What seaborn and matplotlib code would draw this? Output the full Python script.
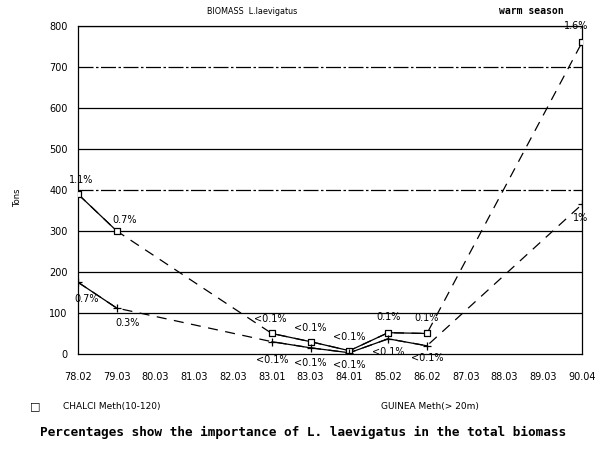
import numpy as np
import pandas as pd
import seaborn as sns
import matplotlib.pyplot as plt

# sampling dates (categorical x axis)
dates = ["78.02", "79.03", "80.03", "81.03", "82.03", "83.01", "83.03",
         "84.01", "85.02", "86.02", "87.03", "88.03", "89.03", "90.04"]

chalci_dates = ["78.02", "79.03", "83.01", "83.03", "84.01", "85.02", "86.02", "90.04"]
chalci_tons = [390, 300, 50, 30, 8, 52, 50, 760]
chalci_pct = ["1.1%", "0.7%", "<0.1%", "<0.1%", "<0.1%", "0.1%", "0.1%", "1.6%"]

guinea_dates = ["78.02", "79.03", "83.01", "83.03", "84.01", "85.02", "86.02", "90.04"]
guinea_tons = [175, 112, 30, 15, 3, 37, 20, 365]
guinea_pct = ["0.7%", "0.3%", "<0.1%", "<0.1%", "<0.1%", "<0.1%", "<0.1%", "1%"]

yticks = [0, 100, 200, 300, 400, 500, 600, 700, 800]

sns.set_style("white")
plt.rcParams["font.family"] = ["DejaVu Sans"]
plt.rcParams["text.color"] = "black"
plt.rcParams["xtick.color"] = "black"
plt.rcParams["ytick.color"] = "black"

df_c = pd.DataFrame({"pos": [dates.index(d) for d in chalci_dates], "tons": chalci_tons})
df_g = pd.DataFrame({"pos": [dates.index(d) for d in guinea_dates], "tons": guinea_tons})

fig = plt.figure(figsize=(6, 4.49), dpi=100)
ax = fig.add_axes([0.13, 0.2116, 0.84, 0.7304])

# horizontal grid lines
for v in yticks[1:]:
    ls = (0, (12, 2, 2, 2)) if v in (400, 700) else "-"
    ax.axhline(v, color="black", lw=0.9, ls=ls, zorder=1)


def draw_series(df, marker, msize):
    # dashed across gaps, solid between consecutive samples
    sns.lineplot(data=df, x="pos", y="tons", ax=ax, color="black", lw=0.9,
                 dashes=False, linestyle=(0, (8, 6)), zorder=2)
    p = df["pos"].to_numpy()
    for i in range(len(p) - 1):
        if p[i + 1] - p[i] == 1:
            sns.lineplot(data=df.iloc[i:i + 2], x="pos", y="tons", ax=ax,
                         color="black", lw=0.9, zorder=3)
    ax.scatter(df["pos"], df["tons"], marker=marker, s=msize,
               facecolors="white" if marker == "s" else "black",
               edgecolors="black", linewidths=0.9, zorder=4)


draw_series(df_c, "s", 22)
draw_series(df_g, "+", 30)

fs = 7
# percentage labels: chalci above, guinea below
c_off = [(2, 8), (6, 6), (-1, 8), (0, 8), (0, 8), (0, 9), (0, 9), (-4, 10)]
for (x, y, t, o) in zip(df_c["pos"], df_c["tons"], chalci_pct, c_off):
    ax.annotate(t, (x, y), xytext=o, textcoords="offset points", ha="center",
                fontsize=fs)
g_off = [(6, -14), (8, -13), (0, -15), (0, -13), (0, -11), (0, -12), (0, -11), (-1, -12)]
for (x, y, t, o) in zip(df_g["pos"], df_g["tons"], guinea_pct, g_off):
    ax.annotate(t, (x, y), xytext=o, textcoords="offset points", ha="center",
                fontsize=fs)

ax.set_xlim(0, len(dates) - 1)
ax.set_ylim(0, 800)
ax.set_xticks(range(len(dates)))
ax.set_xticklabels(dates, fontsize=7)
ax.set_yticks(yticks)
ax.set_yticklabels(yticks, fontsize=7)
ax.tick_params(axis="both", direction="out", length=4, width=0.9, color="black",
               labelcolor="black")
ax.tick_params(axis="x", pad=9)
for s in ["left", "right", "top", "bottom"]:
    ax.spines[s].set_color("black")
    ax.spines[s].set_linewidth(0.9)
ax.set_xlabel("")
ax.set_ylabel("")

fig.text(0.03, 0.56, "Tons", rotation=90, fontsize=6, ha="center", va="center")
fig.text(0.42, 0.975, "BIOMASS  L.laevigatus", fontsize=5.8, ha="center", va="center")
fig.text(0.885, 0.975, "warm season", fontsize=7, ha="center", va="center",
         family="DejaVu Sans Mono", weight="bold")

fig.text(0.058, 0.095, "\u25a1", fontsize=8, ha="center", va="center")
fig.text(0.105, 0.095, "CHALCI Meth(10-120)", fontsize=6.5, ha="left", va="center")
fig.text(0.635, 0.095, "GUINEA Meth(> 20m)", fontsize=6.5, ha="left", va="center")
fig.text(0.067, 0.037, "Percentages show the importance of L. laevigatus in the total biomass",
         fontsize=9.2, ha="left", va="center", family="DejaVu Sans Mono", weight="bold")

fig.savefig("out.png", dpi=100)
